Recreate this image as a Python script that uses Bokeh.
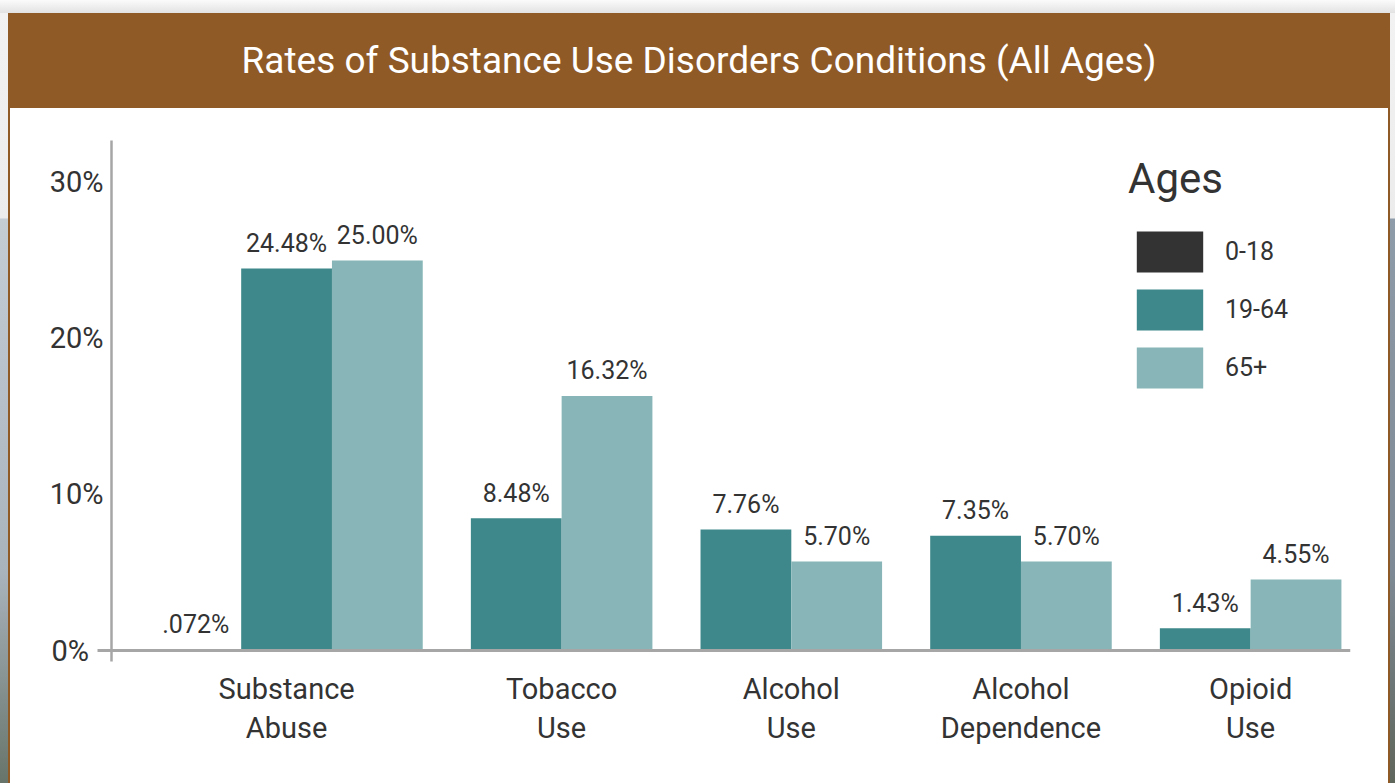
from bokeh.plotting import figure
from bokeh.models import (Range1d, FixedTicker, Span, Legend, LegendItem,
                          ColumnDataSource, Div, PrintfTickFormatter)
from bokeh.layouts import column, row
from bokeh.core.properties import value
from bokeh.embed import file_html
from bokeh.resources import INLINE

# ---- data -----------------------------------------------------------------
categories = ["Substance Abuse", "Tobacco Use", "Alcohol Use",
              "Alcohol Dependence", "Opioid Use"]
category_labels = ["Substance\nAbuse", "Tobacco\nUse", "Alcohol\nUse",
                   "Alcohol\nDependence", "Opioid\nUse"]
age_groups = ["0-18", "19-64", "65+"]
rate_0_18 = [0.072, None, None, None, None]
rate_19_64 = [24.48, 8.48, 7.76, 7.35, 1.43]
rate_65_plus = [25.00, 16.32, 5.70, 5.70, 4.55]
y_ticks = [0, 10, 20, 30]

# ---- style ----------------------------------------------------------------
FONT = "Roboto"
TEXT = "#333333"
GRID_GREY = "#a6a6a6"
BROWN = "#8f5a26"
colors = {"0-18": "#333333", "19-64": "#3e888b", "65+": "#88b6b8"}
series = list(zip(age_groups, [rate_0_18, rate_19_64, rate_65_plus]))

GAP = 0.53  # space between category groups, in bar widths
NBSP = "\u00a0"


def pct(v):
    s = f"{v:.3f}"[1:] if v < 1 else f"{v:.2f}"
    return s + "%"


# bars of a category sit side by side; missing series take no slot
cols = {name: {"x": [], "top": [], "label": []} for name in age_groups}
centers = []
pos = 0.0
for i, _ in enumerate(categories):
    start = pos
    for name, vals in series:
        v = vals[i]
        if v is not None:
            cols[name]["x"].append(pos + 0.5)
            cols[name]["top"].append(v)
            cols[name]["label"].append(pct(v))
            pos += 1
    centers.append((start + pos) / 2)
    pos += GAP
x_end = pos - GAP

p = figure(width=1378, height=675,
           x_range=Range1d(-0.4286, x_end + 0.1),
           y_range=Range1d(-0.705, 32.69),
           output_backend="svg", toolbar_location=None,
           min_border_left=101, min_border_right=38,
           min_border_top=32, min_border_bottom=122, margin=0)
p.background_fill_color = "white"
p.border_fill_color = "white"
p.outline_line_color = None
p.xgrid.visible = False
p.ygrid.visible = False

renderers = {}
for name in age_groups:
    src = ColumnDataSource(cols[name])
    renderers[name] = p.vbar(x="x", top="top", bottom=0, width=1.0, source=src,
                             fill_color=colors[name], line_color=None)
    p.text(x="x", y="top", text="label", source=src,
           text_align="center", text_baseline="middle", y_offset=-25,
           text_font=value(FONT), text_font_size="25px", text_color=TEXT)

p.add_layout(Span(location=0, dimension="width", line_color=GRID_GREY,
                  line_width=3))

# y axis: percent labels, a short stub where the baseline meets it
ya = p.yaxis[0]
ya.ticker = FixedTicker(ticks=y_ticks, minor_ticks=[0])
ya.formatter = PrintfTickFormatter(format="%d%%")
ya.major_label_overrides = {0: "0%" + NBSP * 2}  # keep clear of the stub
ya.axis_line_color = GRID_GREY
ya.axis_line_width = 2.5
ya.major_tick_line_color = None
ya.major_tick_out = 0
ya.major_tick_in = 0
ya.minor_tick_in = 0
ya.minor_tick_out = 14
ya.minor_tick_line_color = GRID_GREY
ya.minor_tick_line_width = 3
ya.major_label_standoff = -6
ya.major_label_text_font = FONT
ya.major_label_text_font_size = "29px"
ya.major_label_text_color = TEXT

# x axis: category names under each group
xa = p.xaxis[0]
xa.ticker = FixedTicker(ticks=centers)
xa.major_label_overrides = {c: lab for c, lab in zip(centers, category_labels)}
xa.axis_line_color = None
xa.major_tick_line_color = None
xa.minor_tick_line_color = None
xa.major_label_standoff = 4
xa.major_label_text_font = FONT
xa.major_label_text_font_size = "29px"
xa.major_label_text_color = TEXT
xa.major_label_text_line_height = 1.15

# legend anchored by its bottom-left corner (screen px from frame bottom-left)
legend = Legend(
    items=[LegendItem(label=n, renderers=[renderers[n]]) for n in age_groups],
    location=(1017, 268), title="Ages",
    title_text_font=FONT, title_text_font_size="42px",
    title_text_color=TEXT, title_text_font_style="normal", title_standoff=23,
    label_text_font=FONT, label_text_font_size="25px", label_text_color=TEXT,
    glyph_width=83, glyph_height=51, label_standoff=14, spacing=7,
    padding=0, margin=0, border_line_color=None, background_fill_alpha=0)
p.add_layout(legend)

# ---- page frame -----------------------------------------------------------
header = Div(text="Rates of Substance Use Disorders Conditions (All Ages)",
             width=1382, height=95, margin=0,
             styles={"background-color": BROWN, "color": "white",
                     "font-family": FONT, "font-size": "37px",
                     "text-align": "center", "line-height": "95px",
                     "white-space": "nowrap"})
edge_l = Div(width=2, height=675, margin=0, styles={"background-color": BROWN})
edge_r = Div(width=2, height=675, margin=0, styles={"background-color": BROWN})
card = column(header, row(edge_l, p, edge_r, spacing=0, margin=0),
              spacing=0, margin=0)

top_strip = Div(width=1395, height=13, margin=0,
                styles={"background": "linear-gradient(#fbfbfb, #e2e2e2)"})
left_strip = Div(width=8, height=770, margin=0,
                 styles={"background": "linear-gradient(#f2f2f2 0px, #ececec 205px, "
                                       "#c4ccd4 206px, #a9b3bc 560px, #67746a 770px)"})
right_strip = Div(width=5, height=770, margin=0,
                  styles={"background": "linear-gradient(#f2f2f2 0px, #ececec 205px, "
                                        "#8e9ba8 206px, #7d8994 560px, #5f665c 770px)"})
page = column(top_strip, row(left_strip, card, right_strip, spacing=0, margin=0),
              spacing=0, margin=0)

open("out.html", "w").write(file_html(page, INLINE))
